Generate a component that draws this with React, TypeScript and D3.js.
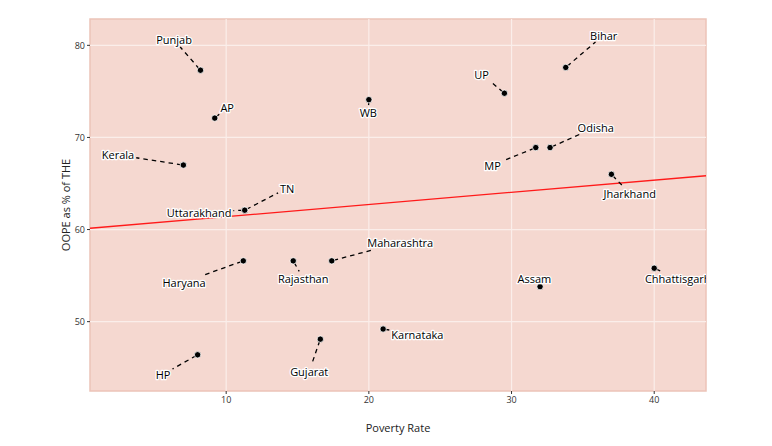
import React from "react";
import * as d3 from "d3";

const states = ["Punjab","AP","Kerala","Uttarakhand","TN","WB","UP","Bihar","Odisha","MP","Jharkhand","Haryana","HP","Rajasthan","Maharashtra","Karnataka","Gujarat","Assam","Chhattisgarh"];
const povertyRate = [8.2,9.2,7.0,11.3,11.3,20.0,29.5,33.8,32.7,31.7,37.0,11.2,8.0,14.7,17.4,21.0,16.6,32.0,40.0];
const oope = [77.3,72.1,67.0,62.1,62.1,74.1,74.8,77.6,68.9,68.9,66.0,56.6,46.4,56.6,56.6,49.2,48.1,53.8,55.8];
// ggrepel-like label anchor positions, in data units
const labelX = [6.35,10.07,2.42,8.1,14.28,19.96,27.9,36.46,35.9,28.67,38.28,7.05,5.58,15.4,22.2,23.4,15.82,31.6,41.65];
const labelY = [80.58,73.29,68.1,61.9,64.5,72.75,76.88,81.12,71.12,66.99,63.95,54.28,44.28,54.7,58.6,48.6,44.6,54.7,54.7];
const xTicks = [10,20,30,40];
const yTicks = [50,60,70,80];
const trendIntercept = 60.08;
const trendSlope = 0.132;

const W = 772, H = 446;
const L = 90, R = 706, T = 19, B = 391;
const FONT = "'Open Sans', 'Noto Sans', sans-serif";

let ctx: CanvasRenderingContext2D | null = null;
function textWidth(s: string, size: number) {
  if (!ctx) {
    const c = document.createElement("canvas");
    ctx = c.getContext("2d");
  }
  if (!ctx) return s.length * size * 0.55;
  ctx.font = `${size}px 'Open Sans'`;
  return ctx.measureText(s).width;
}

export default function App() {
  const x = d3.scaleLinear().domain([0.456, 43.63]).range([L, R]);
  const y = d3.scaleLinear().domain([42.47, 82.86]).range([B, T]);
  const [x0, x1] = x.domain();

  const labels = states.map((s, i) => {
    const px = x(povertyRate[i]), py = y(oope[i]);
    const lx = x(labelX[i]), ly = y(labelY[i]);
    const w = textWidth(s, 11);
    const hw = w / 2 + 2, hh = 7;
    const dx = px - lx, dy = py - ly;
    let seg: [number, number, number, number] | null = null;
    const inside = Math.abs(dx) <= hw && Math.abs(dy) <= hh;
    if (!inside) {
      const t = Math.min(
        dx !== 0 ? hw / Math.abs(dx) : Infinity,
        dy !== 0 ? hh / Math.abs(dy) : Infinity
      );
      const ex = lx + dx * t, ey = ly + dy * t;
      const len = Math.hypot(px - ex, py - ey);
      if (len > 5) {
        const sx = px + ((ex - px) / len) * 2;
        const sy = py + ((ey - py) / len) * 2;
        seg = [sx, sy, ex, ey];
      }
    }
    return { s, px, py, lx, ly, seg };
  });

  return (
    <svg width={W} height={H} style={{ position: "absolute", left: 0, top: 0, background: "#fff" }} fontFamily={FONT}>
      <defs>
        <clipPath id="panel">
          <rect x={L} y={T} width={R - L} height={B - T} />
        </clipPath>
      </defs>
      <rect x={L} y={T} width={R - L} height={B - T} fill="#f5d8d0" stroke="#ecc3b8" strokeWidth={1.5} />
      {xTicks.map((t) => (
        <line key={"gx" + t} x1={x(t)} x2={x(t)} y1={T} y2={B} stroke="#fbeeea" strokeWidth={1.2} />
      ))}
      {yTicks.map((t) => (
        <line key={"gy" + t} x1={L} x2={R} y1={y(t)} y2={y(t)} stroke="#fbeeea" strokeWidth={1.2} />
      ))}
      <g clipPath="url(#panel)">
        <line x1={x(x0)} x2={x(x1)} y1={y(trendIntercept + trendSlope * x0)} y2={y(trendIntercept + trendSlope * x1)} stroke="#ff1a1a" strokeWidth={1.3} />
        {labels.map((d) =>
          d.seg ? (
            <line key={"s" + d.s} x1={d.seg[0]} y1={d.seg[1]} x2={d.seg[2]} y2={d.seg[3]} stroke="#000" strokeWidth={1.3} strokeDasharray="4.5,4" />
          ) : null
        )}
        {labels.map((d) => (
          <circle key={"p" + d.s} cx={d.px} cy={d.py} r={3.2} fill="#000" stroke="#fff" strokeWidth={0.8} />
        ))}
        {labels.map((d) => (
          <text key={"t" + d.s} x={d.lx} y={d.ly} textAnchor="middle" dominantBaseline="central" fontSize={11} fill="#000" stroke="#fff" strokeWidth={2.5} strokeLinejoin="round" style={{ paintOrder: "stroke" }}>
            {d.s}
          </text>
        ))}
      </g>
      {xTicks.map((t) => (
        <g key={"xt" + t}>
          <line x1={x(t)} x2={x(t)} y1={B} y2={B + 3} stroke="#333" />
          <text x={x(t)} y={B + 12} textAnchor="middle" fontSize={9} fill="#333">{t}</text>
        </g>
      ))}
      {yTicks.map((t) => (
        <g key={"yt" + t}>
          <line x1={L - 3} x2={L} y1={y(t)} y2={y(t)} stroke="#333" />
          <text x={L - 5} y={y(t)} textAnchor="end" dominantBaseline="central" fontSize={9} fill="#333">{t}</text>
        </g>
      ))}
      <text x={(L + R) / 2} y={432} textAnchor="middle" fontSize={11} fill="#222">Poverty Rate</text>
      <text transform={`translate(70,${(T + B) / 2}) rotate(-90)`} textAnchor="middle" fontSize={11} fill="#222">OOPE as % of THE</text>
    </svg>
  );
}
